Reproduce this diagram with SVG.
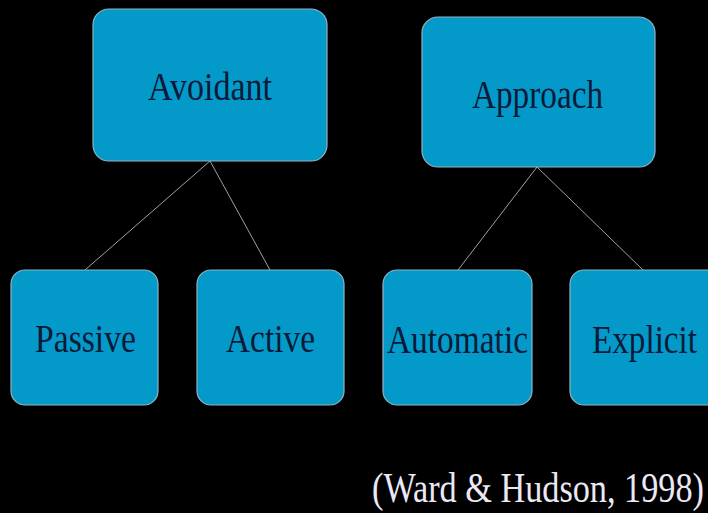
<svg xmlns="http://www.w3.org/2000/svg" width="708" height="513" viewBox="0 0 708 513">
<style>
.box{fill:#0399c9;stroke:#8fb4c4;stroke-width:1.2}
.lbl{font-family:"Liberation Serif","Times New Roman",serif;font-size:41px;fill:#0b1a38}
.cite{font-family:"Liberation Serif","Times New Roman",serif;font-size:42px;fill:#ebe8f5}
.con{stroke:#a0a0a0;stroke-width:1;fill:none}
</style>
<rect x="0" y="0" width="708" height="513" fill="#000"/>
<g id="connectors">
<line class="con" x1="210" y1="161" x2="85" y2="270"/>
<line class="con" x1="210" y1="161" x2="270" y2="270"/>
<line class="con" x1="537" y1="167" x2="458" y2="270"/>
<line class="con" x1="537" y1="167" x2="643" y2="270"/>
</g>
<g id="avoidant">
<rect class="box" x="93" y="9" width="234" height="152" rx="16"/>
<text class="lbl" x="148" y="100" textLength="124" lengthAdjust="spacingAndGlyphs">Avoidant</text>
</g>
<g id="approach">
<rect class="box" x="422" y="17" width="233" height="150" rx="16"/>
<text class="lbl" x="472" y="108" textLength="131" lengthAdjust="spacingAndGlyphs">Approach</text>
</g>
<g id="passive">
<rect class="box" x="11" y="270" width="147" height="135" rx="14"/>
<text class="lbl" x="35" y="352" textLength="101" lengthAdjust="spacingAndGlyphs">Passive</text>
</g>
<g id="active">
<rect class="box" x="197" y="270" width="147" height="135" rx="14"/>
<text class="lbl" x="226" y="352" textLength="89" lengthAdjust="spacingAndGlyphs">Active</text>
</g>
<g id="automatic">
<rect class="box" x="383" y="270" width="149" height="135" rx="14"/>
<text class="lbl" x="387" y="353" textLength="141" lengthAdjust="spacingAndGlyphs">Automatic</text>
</g>
<g id="explicit">
<rect class="box" x="570" y="270" width="150" height="135" rx="14"/>
<text class="lbl" x="592" y="353" textLength="105" lengthAdjust="spacingAndGlyphs">Explicit</text>
</g>
<g id="citation">
<text class="cite" x="372" y="502" textLength="332" lengthAdjust="spacingAndGlyphs">(Ward &amp; Hudson, 1998)</text>
</g>
</svg>
